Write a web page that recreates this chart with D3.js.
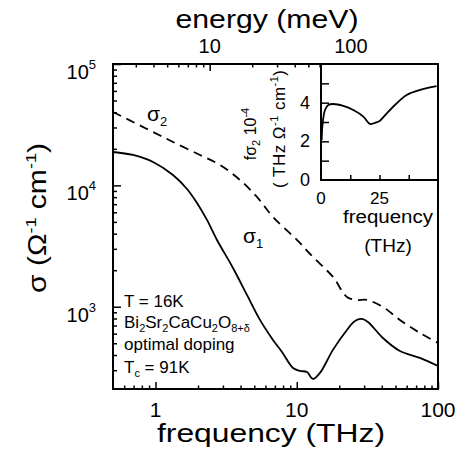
<!DOCTYPE html>
<html>
<head>
<meta charset="utf-8">
<script src="https://cdn.jsdelivr.net/npm/d3@7"></script>
<style>
body { margin: 0; background: #fff; }
svg { font-family: "Liberation Sans", Arial, sans-serif; }
</style>
</head>
<body>
<svg></svg>
<script>
// sigma_1 (solid line): frequency in THz, conductivity in Ohm^-1 cm^-1
let freq1 = [0.5, 0.693, 0.96, 1.33, 1.671, 1.967, 2.314, 2.724, 3.536, 4.442, 5.49, 6.786, 7.859, 9.40, 10.53, 11.81, 13.02, 14.60, 18.04, 22.66, 25.82, 28.93, 31.90, 40.74, 53.75, 74.45, 100]
let sigma1 = [18840, 17800, 15590, 12180, 9340, 7160, 5190, 3550, 2087, 1251, 779, 533, 424, 313, 296, 290, 254, 285, 441, 644, 764, 793, 750, 553, 432, 379, 325]

// sigma_2 (dashed line)
let freq2 = [0.5, 0.693, 0.96, 1.33, 2.065, 2.861, 3.963, 5.226, 6.786, 10.03, 13.02, 18.04, 22.66, 26.67, 31.34, 40.74, 53.75, 74.45, 100]
let sigma2 = [40240, 33290, 27540, 22780, 17800, 14720, 11080, 8025, 5491, 3550, 2572, 1760, 1204, 1138, 1138, 996, 779, 608, 503]

// inset: f*sigma_2 * 1e-4 against linear frequency
let freqIn = [0.3, 0.64, 1.7, 3.1, 5.3, 9.5, 13.8, 18.1, 20.9, 23.1, 25.2, 28.1, 32.4, 36.6, 42.3, 49.4]
let fsig2 = [2.07, 2.85, 3.62, 3.88, 3.93, 3.83, 3.62, 3.28, 2.90, 2.96, 3.07, 3.45, 3.97, 4.40, 4.66, 4.86]

// tick values
let xMajor = [1, 10, 100]
let xMinor = [0.6, 0.7, 0.8, 0.9, 2, 3, 4, 5, 6, 7, 8, 9, 20, 30, 40, 50, 60, 70, 80, 90]
let yMajor = [1e3, 1e4, 1e5]
let yMinor = [300, 400, 500, 600, 700, 800, 900, 2000, 3000, 4000, 5000, 6000, 7000, 8000, 9000, 20000, 30000, 40000, 50000, 60000, 70000, 80000, 90000]
let eMajor = [10, 100]
let eMinor = [3, 4, 5, 6, 7, 8, 9, 20, 30, 40, 50, 60, 70, 80, 90, 200, 300, 400]
let inXTicks = [12.5, 25, 37.5]
let inXLabels = [0, 25]
let inYTicks = [1, 2, 3, 4, 5]
let inYLabels = [0, 2, 4]
let textLines = ['T = 16K', 'optimal doping']

const meVperTHz = 4.1357

let width = 466
let height = 453
let pLeft = 113, pRight = 438, pTop = 64, pBottom = 389
let inLeft = 321, inBottom = 180

let svg = d3.select('svg').attr('width', width).attr('height', height)

let xScale = d3.scaleLog().domain([0.5, 100]).range([pLeft, pRight])
let yScale = d3.scaleLog().domain([210, 1e5]).range([pBottom, pTop])
let eScale = d3.scaleLog().domain([0.5 * meVperTHz, 100 * meVperTHz]).range([pLeft, pRight])
let ixScale = d3.scaleLinear().domain([0, 50]).range([inLeft, pRight])
let iyScale = d3.scaleLinear().domain([0, 6]).range([inBottom, pTop])

const tickGroup = (axis, values, size, transform) => {
    svg.append('g')
       .attr('transform', transform)
       .call(axis.tickValues(values).tickSize(-size).tickFormat(''))
       .call(g => g.select('.domain').remove())
       .selectAll('line').attr('stroke-width', 1.5)
}

// main axes ticks (pointing inward)
tickGroup(d3.axisBottom(xScale), xMajor, 7, `translate(0,${pBottom})`)
tickGroup(d3.axisBottom(xScale), xMinor, 3.5, `translate(0,${pBottom})`)
tickGroup(d3.axisTop(eScale), eMajor, 7, `translate(0,${pTop})`)
tickGroup(d3.axisTop(eScale), eMinor, 3.5, `translate(0,${pTop})`)
tickGroup(d3.axisLeft(yScale), yMajor, 8, `translate(${pLeft},0)`)
tickGroup(d3.axisLeft(yScale), yMinor, 4, `translate(${pLeft},0)`)

// curves
let line = d3.line().curve(d3.curveCatmullRom.alpha(0.5))

svg.append('path')
   .attr('d', line(freq1.map((f, i) => [xScale(f), yScale(sigma1[i])])))
   .attr('fill', 'none').attr('stroke', '#000').attr('stroke-width', 1.8)

svg.append('path')
   .attr('d', line(freq2.map((f, i) => [xScale(f), yScale(sigma2[i])])))
   .attr('fill', 'none').attr('stroke', '#000').attr('stroke-width', 1.8)
   .attr('stroke-dasharray', '9,6')

// frame
svg.append('rect')
   .attr('x', pLeft).attr('y', pTop)
   .attr('width', pRight - pLeft).attr('height', pBottom - pTop)
   .attr('fill', 'none').attr('stroke', '#000').attr('stroke-width', 2)

// inset
svg.append('rect')
   .attr('x', inLeft).attr('y', pTop)
   .attr('width', pRight - inLeft).attr('height', inBottom - pTop)
   .attr('fill', '#fff').attr('stroke', '#000').attr('stroke-width', 2)

tickGroup(d3.axisLeft(iyScale), inYTicks, 8, `translate(${inLeft},0)`)
tickGroup(d3.axisBottom(ixScale), inXTicks, 5, `translate(0,${inBottom})`)

svg.append('path')
   .attr('d', line(freqIn.map((f, i) => [ixScale(f), iyScale(fsig2[i])])))
   .attr('fill', 'none').attr('stroke', '#000').attr('stroke-width', 1.8)

// labels
const txt = (x, y, size, anchor) => svg.append('text')
    .attr('x', x).attr('y', y)
    .attr('font-size', size)
    .attr('text-anchor', anchor || 'start')
    .attr('fill', '#000')

xMajor.forEach(v => txt(xScale(v), 417, 21, 'middle').text(v))
eMajor.forEach(v => txt(eScale(v), 53, 20, 'middle').text(v))

yMajor.forEach(v => {
    let t = txt(96, yScale(v) + 15, 20, 'end')
    t.append('tspan').text('10')
    t.append('tspan').attr('font-size', 13).attr('dy', -10).text(Math.log10(v))
})

inYLabels.forEach(v => txt(310, iyScale(v) + 6, 18, 'end').text(v))
inXLabels.forEach(v => txt(ixScale(v), 204, 17, 'middle').text(v))

txt(388, 223, 18, 'middle').attr('textLength', 90).attr('lengthAdjust', 'spacingAndGlyphs').text('frequency')
txt(388, 252, 19, 'middle').text('(THz)')

// axis titles: glyphs are wider than normal in the original
txt(267, 28, 25, 'middle').attr('textLength', 183).attr('lengthAdjust', 'spacingAndGlyphs').text('energy (meV)')
txt(271, 442, 25, 'middle').attr('textLength', 228).attr('lengthAdjust', 'spacingAndGlyphs').text('frequency (THz)')

let yt = txt(0, 0, 25, 'middle').attr('transform', 'translate(46,218) rotate(-90)')
    .attr('textLength', 150).attr('lengthAdjust', 'spacingAndGlyphs')
yt.append('tspan').text('σ (Ω')
yt.append('tspan').attr('font-size', 15).attr('dy', -10).text('-1')
yt.append('tspan').attr('dy', 10).text(' cm')
yt.append('tspan').attr('font-size', 15).attr('dy', -10).text('-1')
yt.append('tspan').attr('dy', 10).text(')')

let it1 = txt(0, 0, 16, 'middle').attr('transform', 'translate(256,134) rotate(-90)')
it1.append('tspan').text('fσ')
it1.append('tspan').attr('font-size', 11).attr('dy', 4).text('2')
it1.append('tspan').attr('dy', -4).text(' 10')
it1.append('tspan').attr('font-size', 11).attr('dy', -7).text('-4')

let it2 = txt(0, 0, 17, 'middle').attr('transform', 'translate(285,129) rotate(-90)').attr('textLength', 118)
it2.append('tspan').text('( THz Ω')
it2.append('tspan').attr('font-size', 11).attr('dy', -7).text('-1')
it2.append('tspan').attr('dy', 7).text(' cm')
it2.append('tspan').attr('font-size', 11).attr('dy', -7).text('-1')
it2.append('tspan').attr('dy', 7).text(')')

// curve names
let s2 = txt(147, 121, 21)
s2.append('tspan').text('σ')
s2.append('tspan').attr('font-size', 13).attr('dy', 5).text('2')
let s1 = txt(243, 243, 21)
s1.append('tspan').text('σ')
s1.append('tspan').attr('font-size', 13).attr('dy', 5).text('1')

// sample description
txt(124, 307, 17).text(textLines[0])
let bi = txt(124, 328, 17)
;[['Bi', ''], ['2', 'sub'], ['Sr', ''], ['2', 'sub'], ['CaCu', ''], ['2', 'sub'], ['O', ''], ['8+δ', 'sub']].forEach((p, i, arr) => {
    let prevSub = i > 0 && arr[i - 1][1] === 'sub'
    let dy = p[1] === 'sub' ? 4 : (prevSub ? -4 : 0)
    bi.append('tspan').attr('dy', dy).attr('font-size', p[1] === 'sub' ? 11 : 17).text(p[0])
})
txt(124, 350, 17).text(textLines[1])
let tc = txt(124, 373, 17)
tc.append('tspan').text('T')
tc.append('tspan').attr('font-size', 11).attr('dy', 4).text('c')
tc.append('tspan').attr('dy', -4).text(' = 91K')
</script>
</body>
</html>
